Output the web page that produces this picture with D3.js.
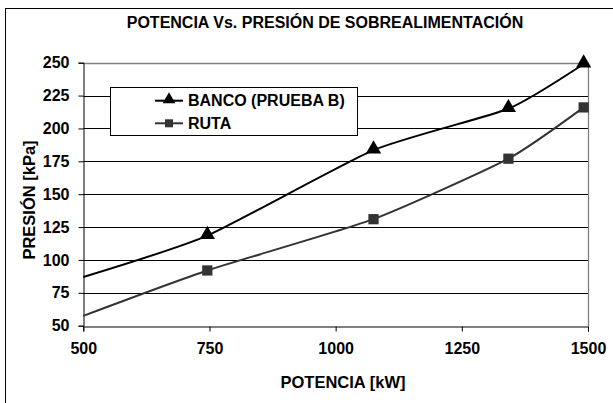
<!DOCTYPE html>
<html><head><meta charset="utf-8">
<script src="https://cdn.jsdelivr.net/npm/d3@7"></script>
<style>
body{margin:0;background:#fff;}
text{font-family:"Liberation Sans",Arial,sans-serif;font-weight:bold;}
</style></head>
<body><svg id="c" width="613" height="403"></svg>
<script>
const title = "POTENCIA Vs. PRESIÓN DE SOBREALIMENTACIÓN";
const xTitle = "POTENCIA [kW]";
const yTitle = "PRESIÓN [kPa]";
const seriesNames = ["BANCO (PRUEBA B)", "RUTA"];
const xTicks = [500, 750, 1000, 1250, 1500];
const yTicks = [50, 75, 100, 125, 150, 175, 200, 225, 250];
// marker points
const powerKW = [745.7, 1075, 1342.3, 1491.4];
const bancoKPa = [118.5, 183.5, 215, 249];
const rutaKPa = [92, 131, 177, 216];
// line start at the left axis (no marker)
const lineStartKW = 500;
const bancoStartKPa = 87;
const rutaStartKPa = 57.5;

const svg = d3.select("#c");
const m = {l:83.3, r:588, t:62.7, b:325.7};
const x = d3.scaleLinear().domain([500,1500]).range([m.l, m.r]);
const y = d3.scaleLinear().domain([50,250]).range([m.b, m.t]);
const FS = "16px";

// outer chart border
svg.append("rect").attr("x",5.5).attr("y",8.5).attr("width",700).attr("height",500)
  .attr("fill","none").attr("stroke","#000").attr("stroke-width",1);

// gridlines
svg.append("g").selectAll("line").data(yTicks.filter(d=>d>50 && d<250)).join("line")
  .attr("x1",m.l).attr("x2",m.r).attr("y1",d=>Math.round(y(d))+0.5).attr("y2",d=>Math.round(y(d))+0.5)
  .attr("stroke","#000").attr("stroke-width",1);
// plot border top/right (gray)
svg.append("path").attr("d",`M${m.l},${Math.round(y(250))+0.5}H${Math.round(m.r)+0.5}V${Math.round(y(50))}`)
  .attr("fill","none").attr("stroke","#808080").attr("stroke-width",1.3);

// axes
const xAxis = d3.axisBottom(x).tickValues(xTicks).tickSize(5).tickPadding(6).tickFormat(d3.format("d"));
const gx = svg.append("g").attr("transform",`translate(0,${Math.round(y(50))+0.5})`).call(xAxis);
const yAxis = d3.axisLeft(y).tickValues(yTicks).tickSize(5).tickPadding(9).tickFormat(d3.format("d"));
const gy = svg.append("g").attr("transform",`translate(${Math.round(m.l)+0.5},0)`).call(yAxis);
[gx,gy].forEach(g=>{
  g.select(".domain").attr("stroke","#000");
  g.selectAll(".tick line").attr("stroke","#000");
  g.selectAll(".tick text").attr("fill","#000").style("font-size",FS).style("font-weight","bold")
   .style("font-family","Liberation Sans, Arial, sans-serif");
});
gx.selectAll(".tick text").attr("dy","1em");

// series
const mk = (ys, y0) => [[lineStartKW, y0]].concat(powerKW.map((p,i)=>[p, ys[i]]));
const line = d3.line().x(d=>x(d[0])).y(d=>y(d[1])).curve(d3.curveCardinal.tension(0.45));
svg.append("path").attr("d",line(mk(rutaKPa, rutaStartKPa))).attr("fill","none")
  .attr("stroke","#333").attr("stroke-width",2);
svg.append("path").attr("d",line(mk(bancoKPa, bancoStartKPa))).attr("fill","none")
  .attr("stroke","#000").attr("stroke-width",2);

const tri = d3.symbol().type(d3.symbolTriangle).size(100);
const sq = d3.symbol().type(d3.symbolSquare).size(105);
svg.append("g").selectAll("path").data(powerKW).join("path")
  .attr("transform",(d,i)=>`translate(${x(d)},${y(rutaKPa[i])})`).attr("d",sq()).attr("fill","#333");
svg.append("g").selectAll("path").data(powerKW).join("path")
  .attr("transform",(d,i)=>`translate(${x(d)},${y(bancoKPa[i]) - 1})`).attr("d",tri()).attr("fill","#000");

// legend
const lg = svg.append("g");
lg.append("rect").attr("x",110.5).attr("y",87.5).attr("width",247).attr("height",48)
  .attr("fill","#fff").attr("stroke","#000").attr("stroke-width",1);
const rows = [{n:seriesNames[0], c:"#000", t:true, y:100.7},{n:seriesNames[1], c:"#333", t:false, y:123.3}];
rows.forEach(r=>{
  lg.append("line").attr("x1",155).attr("x2",183).attr("y1",r.y).attr("y2",r.y).attr("stroke",r.c).attr("stroke-width",2);
  lg.append("path").attr("transform",`translate(169,${r.y - (r.t?1:0)})`)
    .attr("d",d3.symbol().type(r.t?d3.symbolTriangle:d3.symbolSquare).size(r.t?70:64)()).attr("fill",r.c);
  lg.append("text").attr("x",188).attr("y",r.y).attr("dy","0.35em").style("font-size",FS).text(r.n);
});

// titles
svg.append("text").attr("x",325).attr("y",28).attr("text-anchor","middle").style("font-size",FS).text(title);
svg.append("text").attr("x",343).attr("y",388).attr("text-anchor","middle").style("font-size","16.5px").text(xTitle);
svg.append("text").attr("transform",`translate(35,200) rotate(-90)`).attr("text-anchor","middle").style("font-size","16.5px").text(yTitle);
</script></body></html>
